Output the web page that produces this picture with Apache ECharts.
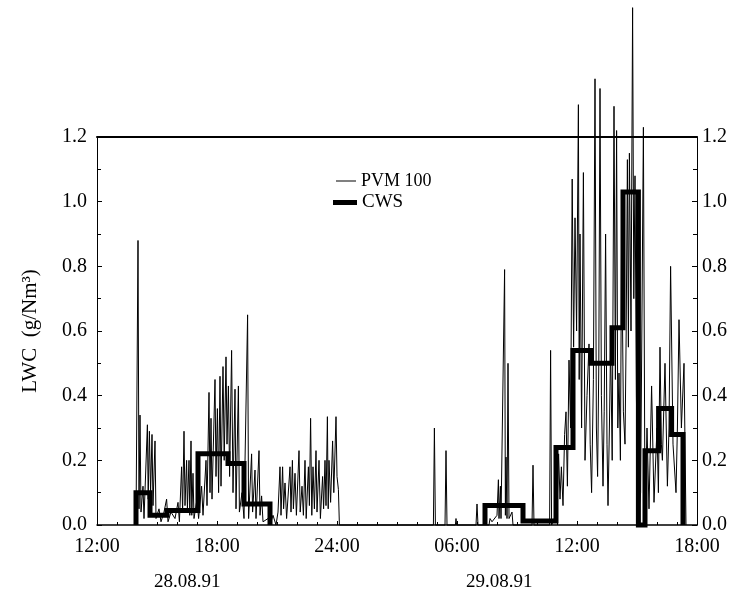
<!DOCTYPE html>
<html>
<head>
<meta charset="utf-8">
<script src="https://cdn.jsdelivr.net/npm/echarts@6/dist/echarts.min.js"></script>
<style>
  html, body { margin: 0; padding: 0; background: #fff; }
  #chart { width: 733px; height: 602px; }
</style>
</head>
<body>
<div id="chart"></div>
<script>
// Time axis runs in hours from 12:00 on 28.08.91 (12) to 18:00 on 29.08.91 (42)
const xTickLabels = ['12:00', '18:00', '24:00', '06:00', '12:00', '18:00'];
const dateLabels = ['28.08.91', '29.08.91'];

// PVM 100 liquid water content (g/Nm3), hour of reading
const pvmHours = [
  13.95, 14.05, 14.1, 14.15, 14.2, 14.3, 14.35, 14.52, 14.56, 14.62, 14.68, 14.75, 14.8, 14.9, 14.95,
  15.1, 15.2, 15.35, 15.48, 15.55, 15.7, 15.9, 16.05, 16.12, 16.23, 16.28, 16.35, 16.4, 16.48, 16.52,
  16.6, 16.64, 16.7, 16.74, 16.8, 16.85, 17.0, 17.08, 17.23, 17.3, 17.45, 17.5, 17.6, 17.65, 17.7,
  17.75, 17.9, 17.95, 18.02, 18.08, 18.15, 18.2, 18.3, 18.36, 18.45, 18.5, 18.57, 18.63, 18.73, 18.8,
  18.9, 18.95, 19.07, 19.12, 19.25, 19.35, 19.53, 19.58, 19.73, 19.78, 19.9, 19.95, 20.1, 20.15, 20.23,
  20.3, 20.55, 20.65, 20.8, 20.95, 21.05, 21.15, 21.2, 21.28, 21.33, 21.4, 21.48, 21.65, 21.7, 21.77,
  21.82, 21.9, 21.97, 22.1, 22.16, 22.25, 22.32, 22.4, 22.46, 22.57, 22.62, 22.68, 22.74, 22.8, 22.87,
  22.95, 23.0, 23.1, 23.17, 23.28, 23.33, 23.4, 23.45, 23.52, 23.56, 23.6, 23.68, 23.78, 23.84, 23.95,
  24.0, 24.07, 24.12,
  28.82, 28.87, 28.92, 29.4, 29.45, 29.5, 29.92, 29.95, 29.98, 30.95, 31.0, 31.05,
  31.6, 31.65, 31.75, 32.0, 32.07, 32.1, 32.17, 32.2, 32.38, 32.42, 32.45, 32.5, 32.55, 32.6, 32.75, 32.8,
  33.75, 33.8, 33.85, 34.63, 34.68, 34.73,
  35.0, 35.08, 35.15, 35.22, 35.3, 35.38, 35.45, 35.52, 35.6, 35.68, 35.76, 35.83, 35.9, 35.98, 36.07,
  36.11, 36.15, 36.23, 36.32, 36.4, 36.5, 36.6, 36.66, 36.73, 36.82, 36.9, 36.97, 37.03, 37.09, 37.15,
  37.22, 37.3, 37.36, 37.43, 37.5, 37.55, 37.62, 37.68, 37.76, 37.85, 37.92, 37.98, 38.04, 38.1, 38.17,
  38.23, 38.32, 38.4, 38.46, 38.52, 38.57, 38.62, 38.7, 38.78, 38.84, 38.9, 38.97, 39.05, 39.18, 39.32,
  39.4, 39.5, 39.6, 39.73, 39.85, 40.0, 40.07, 40.15, 40.22, 40.27, 40.4, 40.52, 40.6, 40.68, 40.8,
  40.95, 41.02, 41.1, 41.22, 41.35, 41.45
];
const pvmValues = [
  0.0, 0.88, 0.05, 0.34, 0.04, 0.12, 0.02, 0.31, 0.08, 0.29, 0.10, 0.28, 0.06, 0.26, 0.02,
  0.05, 0.01, 0.04, 0.08, 0.01, 0.04, 0.02, 0.07, 0.01, 0.18, 0.04, 0.29, 0.06, 0.20, 0.05,
  0.20, 0.03, 0.26, 0.03, 0.16, 0.02, 0.08, 0.02, 0.12, 0.03, 0.20, 0.06, 0.41, 0.10, 0.33,
  0.08, 0.45, 0.15, 0.36, 0.10, 0.46, 0.12, 0.49, 0.20, 0.52, 0.25, 0.43, 0.15, 0.54, 0.10,
  0.42, 0.05, 0.43, 0.04, 0.10, 0.02, 0.65, 0.02, 0.22, 0.04, 0.17, 0.02, 0.23, 0.03, 0.09,
  0.01, 0.02, 0.0, 0.03, 0.0, 0.04, 0.18, 0.03, 0.18, 0.05, 0.13, 0.02, 0.18, 0.04, 0.20,
  0.05, 0.16, 0.03, 0.23, 0.04, 0.12, 0.03, 0.20, 0.02, 0.18, 0.06, 0.33, 0.03, 0.18, 0.05,
  0.23, 0.04, 0.20, 0.02, 0.15, 0.05, 0.20, 0.06, 0.335, 0.05, 0.20, 0.07, 0.26, 0.10, 0.335,
  0.15, 0.11, 0.0,
  0.0, 0.30, 0.0, 0.0, 0.23, 0.0, 0.0, 0.02, 0.0, 0.0, 0.065, 0.0,
  0.0, 0.02, 0.01, 0.03, 0.14, 0.02, 0.12, 0.02, 0.79, 0.03, 0.21, 0.02, 0.50, 0.02, 0.04, 0.0,
  0.0, 0.185, 0.0, 0.0, 0.54, 0.0,
  0.04, 0.22, 0.08, 0.18, 0.06, 0.28, 0.35, 0.12, 0.51, 0.30, 1.07, 0.55, 0.95, 0.60, 1.30,
  0.45, 0.90, 0.30, 1.09, 0.20, 0.40, 0.56, 0.25, 0.10, 0.45, 1.38, 0.30, 0.15, 0.50, 1.35,
  0.40, 0.12, 0.35, 0.90, 0.25, 0.06, 0.30, 0.56, 0.20, 1.295, 0.45, 1.22, 0.30, 0.47, 0.20,
  0.90, 0.35, 0.25, 0.60, 1.13, 0.55, 1.15, 0.60, 1.60, 0.70, 1.08, 0.40, 0.01, 0.10, 1.23,
  0.02, 0.30, 0.05, 0.43, 0.07, 0.30, 0.10, 0.55, 0.25, 0.20, 0.50, 0.12, 0.30, 0.80, 0.25,
  0.10, 0.30, 0.635, 0.30, 0.50, 0.0
];

// CWS liquid water content: level held from each start hour to the next
const cwsHours1 = [13.95, 13.95, 14.65, 15.5, 17.05, 18.55, 19.35, 20.65];
const cwsValues1 = [0.0, 0.10, 0.03, 0.045, 0.22, 0.19, 0.065, 0.0];
const cwsHours2 = [31.4, 31.4, 33.3, 34.95, 35.8, 36.7, 37.75, 38.3, 39.07, 39.4, 40.08, 40.73, 41.3];
const cwsValues2 = [0.0, 0.06, 0.012, 0.24, 0.54, 0.50, 0.61, 1.03, 0.0, 0.23, 0.36, 0.28, 0.0];

const FONT = '"Liberation Serif", "DejaVu Serif", serif';

const pvmData = pvmHours.map((h, i) => [h, pvmValues[i]]);
const cwsData = cwsHours1.map((h, i) => [h, cwsValues1[i]])
  .concat([[null, null]])
  .concat(cwsHours2.map((h, i) => [h, cwsValues2[i]]));

const chart = echarts.init(document.getElementById('chart'), null, { renderer: 'canvas' });

const yAxisBase = {
  type: 'value',
  min: 0,
  max: 1.2,
  interval: 0.2,
  axisLine: { show: true, lineStyle: { color: '#000', width: 1 } },
  axisTick: { show: true, inside: true, length: 5, lineStyle: { color: '#000' } },
  minorTick: { show: true, splitNumber: 2, length: 4, lineStyle: { color: '#000' } },
  splitLine: { show: false },
  axisLabel: {
    color: '#000', fontFamily: FONT, fontSize: 20,
    formatter: v => v.toFixed(1)
  }
};

chart.setOption({
  animation: false,
  backgroundColor: '#fff',
  grid: { left: 97, right: 36, top: 137, bottom: 77 },
  legend: [
    {
      data: ['PVM 100'], left: 336, top: 172, icon: 'rect',
      itemWidth: 20, itemHeight: 1, padding: 0,
      textStyle: { color: '#000', fontFamily: FONT, fontSize: 18 }
    },
    {
      data: ['CWS'], left: 333, top: 193, icon: 'rect',
      itemWidth: 24, itemHeight: 5, padding: 0,
      textStyle: { color: '#000', fontFamily: FONT, fontSize: 19 }
    }
  ],
  xAxis: [
    {
      type: 'value', min: 12, max: 42, interval: 6,
      axisLine: { show: true, onZero: false, lineStyle: { color: '#000', width: 1.5 } },
      axisTick: { show: true, inside: true, length: 4, lineStyle: { color: '#000' } },
      minorTick: { show: true, splitNumber: 6, length: 3, lineStyle: { color: '#000' } },
      splitLine: { show: false },
      axisLabel: {
        color: '#000', fontFamily: FONT, fontSize: 20, margin: 12,
        formatter: v => xTickLabels[Math.round((v - 12) / 6)]
      }
    },
    {
      type: 'value', min: 12, max: 42, position: 'top',
      axisLine: { show: true, onZero: false, lineStyle: { color: '#000', width: 2 } },
      axisTick: { show: false }, axisLabel: { show: false }, splitLine: { show: false }
    }
  ],
  yAxis: [
    Object.assign({}, yAxisBase, {
      position: 'left',
      name: 'LWC  (g/Nm³)',
      nameLocation: 'middle',
      nameGap: 56,
      nameTextStyle: { color: '#000', fontFamily: FONT, fontSize: 21 },
      axisLabel: Object.assign({}, yAxisBase.axisLabel, { margin: 10 })
    }),
    Object.assign({}, yAxisBase, {
      position: 'right',
      axisLabel: Object.assign({}, yAxisBase.axisLabel, { margin: 5 })
    })
  ],
  graphic: [
    { type: 'text', left: 188 - 34, top: 573, style: { text: dateLabels[0], font: '19px ' + FONT, fill: '#000' } },
    { type: 'text', left: 500 - 34, top: 573, style: { text: dateLabels[1], font: '19px ' + FONT, fill: '#000' } }
  ],
  series: [
    {
      name: 'PVM 100', type: 'line', data: pvmData, clip: false,
      symbol: 'none', showSymbol: false,
      lineStyle: { color: '#000', width: 1 },
      itemStyle: { color: '#000' },
      z: 2
    },
    {
      name: 'CWS', type: 'line', data: cwsData, step: 'end', clip: false,
      symbol: 'none', showSymbol: false, connectNulls: false,
      lineStyle: { color: '#000', width: 5, join: 'miter', cap: 'butt' },
      itemStyle: { color: '#000' },
      z: 3
    }
  ]
});
</script>
</body>
</html>
